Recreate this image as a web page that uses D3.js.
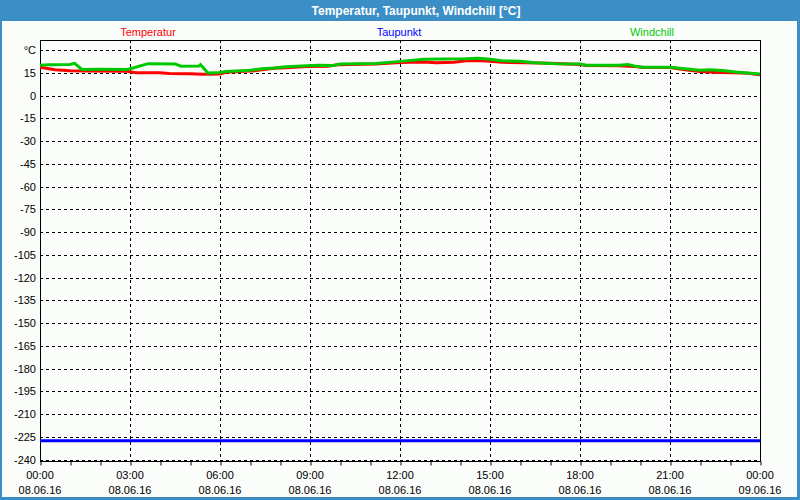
<!DOCTYPE html>
<html><head><meta charset="utf-8">
<script src="https://cdn.jsdelivr.net/npm/d3@7"></script>
<style>body{margin:0;background:#fff}svg{display:block}text{font-family:"Liberation Sans",Arial,sans-serif}</style>
</head><body><svg id="c" width="800" height="500"></svg>
<script>
const title = "Temperatur, Taupunkt, Windchill [°C]";
const seriesNames = ["Temperatur", "Taupunkt", "Windchill"];
const seriesColors = ["#ff0000", "#0000ff", "#00c800"];
const yTicks = [30,15,0,-15,-30,-45,-60,-75,-90,-105,-120,-135,-150,-165,-180,-195,-210,-225,-240];
const xTickHours = [0,3,6,9,12,15,18,21,24];
const xTimeLabels = ["00:00","03:00","06:00","09:00","12:00","15:00","18:00","21:00","00:00"];
const xDateLabels = ["08.06.16","08.06.16","08.06.16","08.06.16","08.06.16","08.06.16","08.06.16","08.06.16","09.06.16"];

const tempHours = [0,0.5,1.0,1.5,2.9,3.2,4.0,4.3,5.0,5.4,6.0,6.2,6.8,7.2,7.4,7.8,8.2,8.9,9.6,9.9,11.2,12.0,12.8,13.2,13.8,14.2,14.6,15.0,15.4,16.2,17.0,18.0,18.2,19.3,19.8,20.1,21.0,21.5,22.0,22.6,23.2,23.6,24.0];
const tempValues = [18.6,17.0,16.4,16.1,16.0,15.0,15.0,14.5,14.4,14.0,14.2,15.3,16.0,16.4,17.0,17.9,18.3,19.2,19.3,20.3,20.8,21.8,22.1,21.6,22.0,22.9,23.1,22.5,21.9,21.6,21.2,20.5,19.8,19.6,19.2,18.5,18.4,17.0,15.9,15.2,15.0,14.6,13.7];

const dewHours = [0,24];
const dewValues = [-227.6,-227.6];

const chillHours = [0,0.3,1.0,1.15,1.4,2.0,2.9,3.1,3.6,4.5,4.7,5.3,5.35,5.6,6.0,6.2,6.7,7.0,7.4,7.8,8.2,8.9,9.3,9.8,10.0,11.2,12.0,12.8,14.2,14.6,15.0,15.4,16.0,16.5,17.2,18.0,18.2,19.3,19.6,19.8,20.1,21.0,21.5,22.0,22.3,22.6,22.9,23.2,23.6,24.0];
const chillValues = [19.9,20.3,20.5,21.2,17.2,17.3,17.2,18.1,21.0,20.8,19.3,19.4,20.3,14.8,15.2,15.8,16.3,16.6,17.6,18.2,19.0,19.6,19.9,19.8,20.8,21.1,22.5,23.9,24.2,24.6,23.9,22.9,22.6,21.6,21.0,20.8,19.9,19.9,20.5,19.5,18.6,18.6,17.7,16.6,17.0,16.6,16.2,15.5,14.8,14.2];

const W = 800, H = 500;
const L = 40, R = 760, T = 40, B = 461;
const svg = d3.select("#c");
const blue = "#3c8fc6";

// frame
svg.append("rect").attr("x",0).attr("y",0).attr("width",W).attr("height",H).attr("fill",blue);
svg.append("rect").attr("x",2).attr("y",21).attr("width",795).attr("height",476).attr("fill","#fbfdfb");
svg.append("text").attr("x",416).attr("y",15).attr("text-anchor","middle")
  .attr("fill","#fff").attr("font-weight","bold").attr("font-size","12px").text(title);

const x = d3.scaleLinear().domain([0,24]).range([L,R]);
const y = d3.scaleLinear().domain([-240,30]).range([459.5,50]);

// horizontal gridlines
svg.append("g").selectAll("line").data(yTicks).join("line")
  .attr("x1",L).attr("x2",R).attr("y1",d=>Math.round(y(d))+0.5).attr("y2",d=>Math.round(y(d))+0.5)
  .attr("stroke","#000").attr("stroke-dasharray","3,3");
// vertical gridlines
svg.append("g").selectAll("line").data(xTickHours.slice(1,-1)).join("line")
  .attr("x1",d=>Math.round(x(d))+0.5).attr("x2",d=>Math.round(x(d))+0.5).attr("y1",T).attr("y2",B)
  .attr("stroke","#000").attr("stroke-dasharray","3,3");

// border
svg.append("rect").attr("x",L+0.5).attr("y",T+0.5).attr("width",R-L).attr("height",B-T)
  .attr("fill","none").attr("stroke","#000");

// bottom axis minor ticks
const xAxis = d3.axisBottom(x).ticks(24).tickSize(4).tickFormat("");
const gx = svg.append("g").attr("transform",`translate(0.5,${B+0.5})`).call(xAxis);
gx.select(".domain").remove();
gx.selectAll("line").attr("stroke","#000");

// y labels
svg.append("g").selectAll("text").data(yTicks).join("text")
  .attr("x",36).attr("y",d=>y(d)+4).attr("text-anchor","end").attr("font-size","11px").attr("fill","#000")
  .text(d=>d===30?"°C":d);

// x labels
const xl = svg.append("g").selectAll("g").data(xTickHours).join("g");
xl.append("text").attr("x",d=>x(d)).attr("y",479).attr("text-anchor","middle").attr("font-size","11px")
  .text((d,i)=>xTimeLabels[i]);
xl.append("text").attr("x",d=>x(d)).attr("y",494).attr("text-anchor","middle").attr("font-size","11px")
  .text((d,i)=>xDateLabels[i]);

// legend
const legX = [148,399,652];
svg.append("g").selectAll("text").data(seriesNames).join("text")
  .attr("x",(d,i)=>legX[i]).attr("y",36).attr("text-anchor","middle").attr("font-size","11px")
  .attr("fill",(d,i)=>seriesColors[i]).text(d=>d);

// lines
const line = d3.line().x(d=>x(d[0])).y(d=>y(d[1]));
const series = [
  {h:tempHours, v:tempValues, c:seriesColors[0]},
  {h:dewHours, v:dewValues, c:seriesColors[1]},
  {h:chillHours, v:chillValues, c:seriesColors[2]}
];
series.forEach(s=>{
  svg.append("path").datum(s.h.map((h,i)=>[h,s.v[i]]))
    .attr("d",line).attr("fill","none").attr("stroke",s.c).attr("stroke-width",3)
    .attr("stroke-linejoin","miter");
});
</script></body></html>
